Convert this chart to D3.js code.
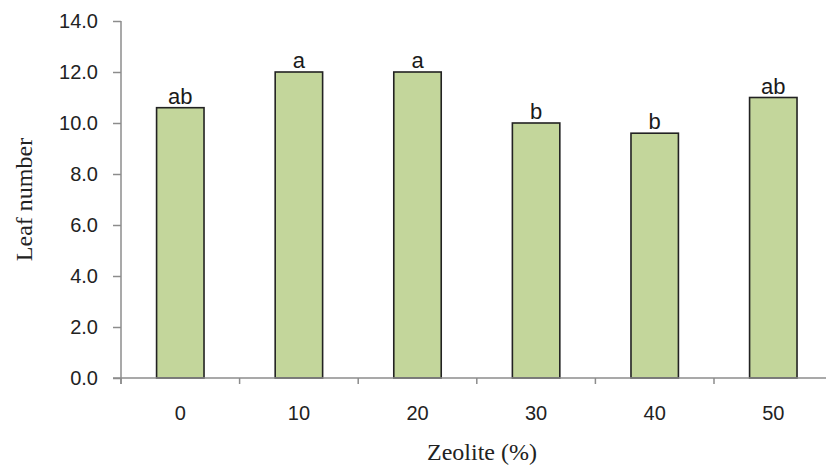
<!DOCTYPE html>
<html>
<head>
<meta charset="utf-8">
<script src="https://cdn.jsdelivr.net/npm/d3@7"></script>
<style>
  body { margin: 0; background: #fff; }
  svg { display: block; }
</style>
</head>
<body>
<script>
// data
var zeolite = ["0", "10", "20", "30", "40", "50"];
var leafNumber = [10.6, 12.0, 12.0, 10.0, 9.6, 11.0];
var letters = ["ab", "a", "a", "b", "b", "ab"];
var yTicks = [0, 2, 4, 6, 8, 10, 12, 14];

var width = 826, height = 466;
var margin = {left: 121, top: 21, bottom: 88};

var svg = d3.select("body").append("svg")
  .attr("width", width)
  .attr("height", height);

// the band range runs a bit past the right edge, like the cropped original
var x = d3.scaleBand()
  .domain(zeolite)
  .range([margin.left, margin.left + 6 * 118.6])
  .paddingInner(0.6)
  .paddingOuter(0.3);

var y = d3.scaleLinear()
  .domain([0, 14])
  .range([height - margin.bottom, margin.top]);

var axisColor = "#8c8c8c";

// bars
svg.selectAll("rect.bar")
  .data(leafNumber)
  .enter().append("rect")
  .attr("class", "bar")
  .attr("x", function(d, i) { return x(zeolite[i]); })
  .attr("y", function(d) { return y(d); })
  .attr("width", x.bandwidth())
  .attr("height", function(d) { return y(0) - y(d); })
  .style("fill", "#c3d69b")
  .attr("stroke", "#222")
  .attr("stroke-width", 1.6);

// significance letters
svg.selectAll("text.letter")
  .data(letters)
  .enter().append("text")
  .attr("class", "letter")
  .attr("x", function(d, i) { return x(zeolite[i]) + x.bandwidth() / 2; })
  .attr("y", function(d, i) { return y(leafNumber[i]) - 4; })
  .attr("text-anchor", "middle")
  .style("font-family", "'Liberation Sans', Arial, sans-serif")
  .style("font-size", "22px")
  .style("fill", "#1a1a1a")
  .text(function(d) { return d; });

// y axis
var yAxis = svg.append("g")
  .attr("transform", "translate(" + margin.left + ",0)")
  .call(d3.axisLeft(y).tickValues(yTicks).tickFormat(d3.format(".1f")).tickSize(8).tickPadding(15));

// x axis, ticks sit on the band edges
var step = x.step();
var edges = d3.range(0, zeolite.length + 1).map(function(i) { return margin.left + i * step; });
var xAxis = svg.append("g")
  .attr("transform", "translate(0," + y(0) + ")");
xAxis.append("line")
  .attr("x1", margin.left - 8)
  .attr("x2", width)
  .attr("stroke", axisColor)
  .attr("stroke-width", 1.5);
xAxis.selectAll("line.tick")
  .data(edges)
  .enter().append("line")
  .attr("class", "tick")
  .attr("x1", function(d) { return d; })
  .attr("x2", function(d) { return d; })
  .attr("y1", 0)
  .attr("y2", 6)
  .attr("stroke", axisColor)
  .attr("stroke-width", 1.5);
xAxis.selectAll("text")
  .data(zeolite)
  .enter().append("text")
  .attr("x", function(d) { return x(d) + x.bandwidth() / 2; })
  .attr("y", 42)
  .attr("text-anchor", "middle")
  .style("font-family", "'Liberation Sans', Arial, sans-serif")
  .style("font-size", "20px")
  .style("fill", "#222")
  .text(function(d) { return d; });

yAxis.select(".domain").attr("stroke", axisColor).attr("stroke-width", 1.5)
  .attr("d", "M0," + y(14) + "V" + (y(0) + 6));
yAxis.selectAll(".tick line").attr("stroke", axisColor).attr("stroke-width", 1.5);
yAxis.selectAll(".tick text")
  .style("font-family", "'Liberation Sans', Arial, sans-serif")
  .style("font-size", "20px")
  .style("fill", "#222");

// titles
svg.append("text")
  .attr("x", 482)
  .attr("y", 460)
  .attr("text-anchor", "middle")
  .style("font-family", "'Liberation Serif', 'Times New Roman', serif")
  .style("font-size", "24px")
  .style("fill", "#222")
  .text("Zeolite (%)");

svg.append("text")
  .attr("transform", "translate(32," + (y(0) + y(14)) / 2 + ") rotate(-90)")
  .attr("text-anchor", "middle")
  .style("font-family", "'Liberation Serif', 'Times New Roman', serif")
  .style("font-size", "24px")
  .style("fill", "#222")
  .text("Leaf number");
</script>
</body>
</html>
